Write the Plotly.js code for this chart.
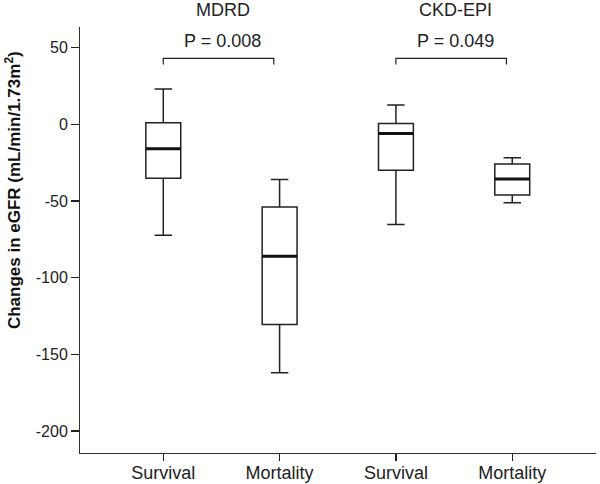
<!DOCTYPE html>
<html>
<head>
<meta charset="utf-8">
<script src="https://cdn.plot.ly/plotly-3.0.1.min.js"></script>
<style>html,body{margin:0;padding:0;background:#fff;}#chart{width:600px;height:484px;}</style>
</head>
<body>
<div id="chart"></div>
<script>
// Data
const categories = ["Survival", "Mortality", "Survival", "Mortality"];
const groups = ["MDRD", "CKD-EPI"];
const pValues = ["P = 0.008", "P = 0.049"];
const upperWhisker = [23, -36, 12.6, -21.8];
const q3 = [1, -54, 0.6, -25.9];
const median = [-16, -86, -5.9, -35.7];
const q1 = [-35.2, -130.5, -30, -46.1];
const lowerWhisker = [-72.3, -162, -65.3, -51.2];
const yTickVals = [50, 0, -50, -100, -150, -200];
const yTickText = ["50", "0", "-50", "-100", "-150", "-200"];

const positions = categories.map((c, i) => i);
const boxWidth = 0.3;
const font = "Liberation Sans, Arial, sans-serif";

const traces = [{
  type: "box",
  x: positions,
  q1: q1,
  median: median,
  q3: q3,
  lowerfence: lowerWhisker,
  upperfence: upperWhisker,
  width: boxWidth,
  whiskerwidth: 0.5,
  fillcolor: "#ffffff",
  line: {color: "#222222", width: 1.5},
  boxpoints: false,
  hoverinfo: "skip",
  showlegend: false
}];
// thicker median lines
positions.forEach((p, i) => {
  traces.push({
    type: "scatter", mode: "lines",
    x: [p - boxWidth / 2, p + boxWidth / 2],
    y: [median[i], median[i]],
    line: {color: "#111111", width: 3},
    hoverinfo: "skip", showlegend: false
  });
});

const bracketY = 43;
const bracketDrop = 4;
const shapes = [];
const annotations = [];
groups.forEach((g, gi) => {
  const a = gi * 2, b = gi * 2 + 0.95;
  shapes.push({
    type: "path", xref: "x", yref: "y",
    path: `M ${a} ${bracketY - bracketDrop} L ${a} ${bracketY} L ${b} ${bracketY} L ${b} ${bracketY - bracketDrop}`,
    line: {color: "#222222", width: 1.2}
  });
  annotations.push({
    x: gi * 2 + 0.51, y: 1.04, xref: "x", yref: "paper", text: g, showarrow: false,
    yanchor: "middle",
    font: {family: font, size: 18, color: "#222222"}
  });
  annotations.push({
    x: gi * 2 + 0.51, y: 54.4, xref: "x", yref: "y", text: pValues[gi], showarrow: false,
    yanchor: "middle",
    font: {family: font, size: 18, color: "#222222"}
  });
});
// y-axis title (placed off-centre as in the reference)
annotations.push({
  x: -0.13, y: 0.617, xref: "paper", yref: "paper",
  text: "<b>Changes in eGFR (mL/min/1.73m<sup>2</sup>)</b>",
  textangle: -90, showarrow: false, xanchor: "center", yanchor: "middle",
  font: {family: font, size: 17, color: "#111111"}
});

const layout = {
  width: 600, height: 484,
  margin: {l: 80, r: 4, t: 27, b: 31, pad: 0},
  paper_bgcolor: "#ffffff", plot_bgcolor: "#ffffff",
  font: {family: font, color: "#222222"},
  showlegend: false,
  xaxis: {
    range: [-0.716, 3.72],
    tickvals: positions, ticktext: categories,
    showgrid: false, zeroline: false,
    showline: true, linecolor: "#333333", linewidth: 1,
    ticks: "outside", ticklen: 7, tickwidth: 1.5, tickcolor: "#222222",
    ticklabelstandoff: -4,
    tickfont: {family: font, size: 18, color: "#222222"},
    fixedrange: true
  },
  yaxis: {
    range: [-214.4, 63.5],
    tickvals: yTickVals, ticktext: yTickText,
    showgrid: false, zeroline: false,
    showline: true, linecolor: "#333333", linewidth: 1,
    ticks: "outside", ticklen: 8, tickwidth: 1.5, tickcolor: "#222222",
    tickfont: {family: font, size: 16, color: "#222222"},
    fixedrange: true
  },
  shapes: shapes,
  annotations: annotations
};

Plotly.newPlot("chart", traces, layout, {displayModeBar: false, staticPlot: true});
</script>
</body>
</html>
